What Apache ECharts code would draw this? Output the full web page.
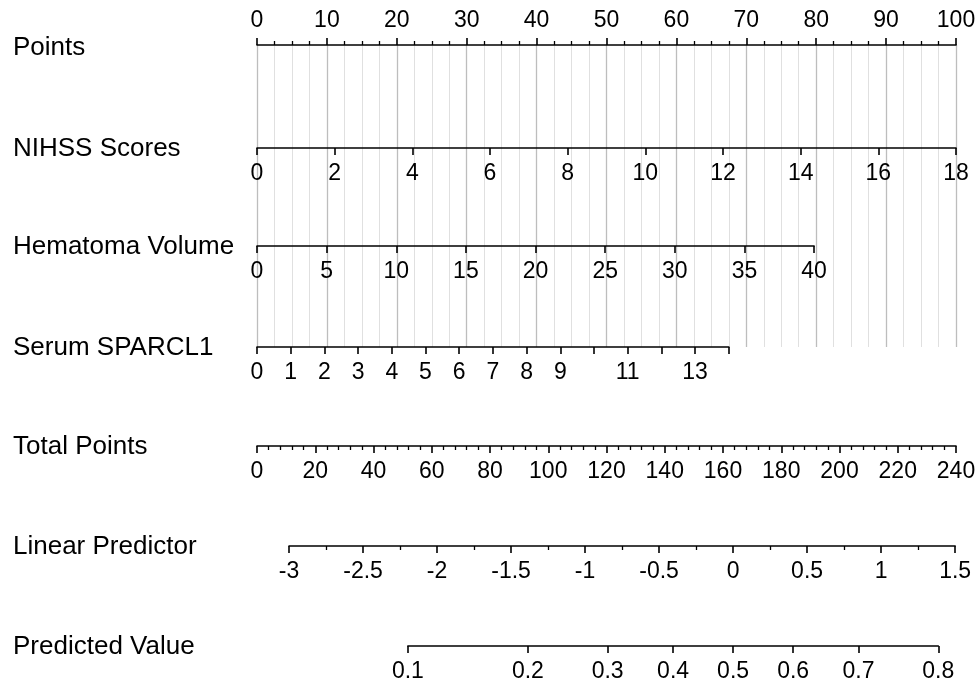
<!DOCTYPE html>
<html>
<head>
<meta charset="utf-8">
<script src="https://cdn.jsdelivr.net/npm/echarts@6/dist/echarts.min.js"></script>
<style>
  html, body { margin: 0; padding: 0; background: #fff; }
  #chart { width: 979px; height: 687px; }
</style>
</head>
<body>
<div id="chart"></div>
<script>
// 行标题
const rowNames = ['Points', 'NIHSS Scores', 'Hematoma Volume', 'Serum SPARCL1', 'Total Points', 'Linear Predictor', 'Predicted Value'];

// 各变量取值范围及其对应的最大得分
const pointsRange = [0, 100];
const nihssRange = [0, 18];
const nihssMaxPoints = 100;
const hematomaRange = [0, 40];
const hematomaMaxPoints = 79.7;
const sparclRange = [0, 14];
const sparclMaxPoints = 67.5;
const sparclTicks = [0, 1, 2, 3, 4, 5, 6, 7, 8, 9, 10, 11, 12, 13, 14];
const sparclLabels = [0, 1, 2, 3, 4, 5, 6, 7, 8, 9, 11, 13];
const totalRange = [0, 240];
const lpRange = [-3, 1.5];
const lpTotalPoints = [11.0, 239.7];   // 线性预测值 -3 与 1.5 对应的总分
const predValues = [0.1, 0.2, 0.3, 0.4, 0.5, 0.6, 0.7, 0.8];

// 布局
const plotLeft = 257;
const plotWidth = 699;
const rowY = [45, 148, 246, 347, 446, 546, 646];
const FONT = "'Liberation Sans', Arial, Helvetica, sans-serif";
const TICK_FONT = 23;
const TITLE_FONT = 26;

const logit = p => Math.log(p / (1 - p));

const grids = [];
const xAxes = [];
const yAxes = [];

function addRow(left, width, top, height, axis) {
    const idx = grids.length;
    grids.push({ left: left, width: width, top: top, height: height, outerBoundsMode: 'none' });
    xAxes.push(Object.assign({
        type: 'value',
        gridIndex: idx,
        position: 'bottom',
        axisLine: { show: true, onZero: false, lineStyle: { color: '#000', width: 1.6 } },
        axisTick: { show: true, length: 7, lineStyle: { color: '#000', width: 1.6 } },
        axisLabel: { show: true, margin: 14, color: '#000', fontSize: TICK_FONT, fontFamily: FONT },
        splitLine: { show: false }
    }, axis));
    yAxes.push({ type: 'value', gridIndex: idx, show: false, min: 0, max: 1 });
}

const minorTick = n => ({ show: true, splitNumber: n, length: 4, lineStyle: { color: '#000', width: 1.3 } });

// Points 轴 (带竖向参考线)
addRow(plotLeft, plotWidth, rowY[0], rowY[3] - rowY[0], {
    position: 'top',
    min: pointsRange[0], max: pointsRange[1], interval: 10,
    minorTick: minorTick(4),
    axisLabel: { show: true, margin: 13, color: '#000', fontSize: TICK_FONT, fontFamily: FONT },
    splitLine: { show: true, lineStyle: { color: '#bdbdbd', width: 1.3 } },
    minorSplitLine: { show: true, lineStyle: { color: '#e0e0e0', width: 1 } }
});

// NIHSS Scores
addRow(plotLeft, plotWidth * nihssMaxPoints / 100, rowY[1] - 1, 1, {
    min: nihssRange[0], max: nihssRange[1], interval: 2
});

// Hematoma Volume
addRow(plotLeft, plotWidth * hematomaMaxPoints / 100, rowY[2] - 1, 1, {
    min: hematomaRange[0], max: hematomaRange[1], interval: 5
});

// Serum SPARCL1
addRow(plotLeft, plotWidth * sparclMaxPoints / 100, rowY[3] - 1, 1, {
    min: sparclRange[0], max: sparclRange[1],
    axisTick: { show: true, length: 7, customValues: sparclTicks, lineStyle: { color: '#000', width: 1.6 } },
    axisLabel: { show: true, margin: 14, color: '#000', fontSize: TICK_FONT, fontFamily: FONT, customValues: sparclLabels }
});

// Total Points
addRow(plotLeft, plotWidth, rowY[4] - 1, 1, {
    min: totalRange[0], max: totalRange[1], interval: 20,
    minorTick: minorTick(5)
});

// Linear Predictor
const tpScale = plotWidth / (totalRange[1] - totalRange[0]);
const lpLeft = plotLeft + lpTotalPoints[0] * tpScale;
const lpWidth = (lpTotalPoints[1] - lpTotalPoints[0]) * tpScale;
addRow(lpLeft, lpWidth, rowY[5] - 1, 1, {
    min: lpRange[0], max: lpRange[1], interval: 0.5,
    minorTick: minorTick(2)
});

// Predicted Value (logit 刻度)
const lpScale = lpWidth / (lpRange[1] - lpRange[0]);
const predLogits = predValues.map(logit);
const pMin = predLogits[0];
const pMax = predLogits[predLogits.length - 1];
addRow(lpLeft + (pMin - lpRange[0]) * lpScale, (pMax - pMin) * lpScale, rowY[6] - 1, 1, {
    min: pMin, max: pMax,
    axisTick: { show: true, length: 7, customValues: predLogits, lineStyle: { color: '#000', width: 1.6 } },
    axisLabel: {
        show: true, margin: 14, color: '#000', fontSize: TICK_FONT, fontFamily: FONT,
        customValues: predLogits,
        formatter: function (v) {
            return (1 / (1 + Math.exp(-v))).toFixed(1);
        }
    }
});

// 行标题
const titleOffset = [3, 1, 1, 1, 1, 1, 1];
const titles = rowNames.map(function (name, i) {
    return {
        type: 'text',
        left: 13,
        top: rowY[i] + titleOffset[i] - 13,
        style: { text: name, fill: '#000', fontSize: TITLE_FONT, fontFamily: FONT }
    };
});

const chart = echarts.init(document.getElementById('chart'), null, { renderer: 'canvas' });
chart.setOption({
    animation: false,
    backgroundColor: '#fff',
    grid: grids,
    xAxis: xAxes,
    yAxis: yAxes,
    graphic: titles,
    series: []
});
</script>
</body>
</html>
